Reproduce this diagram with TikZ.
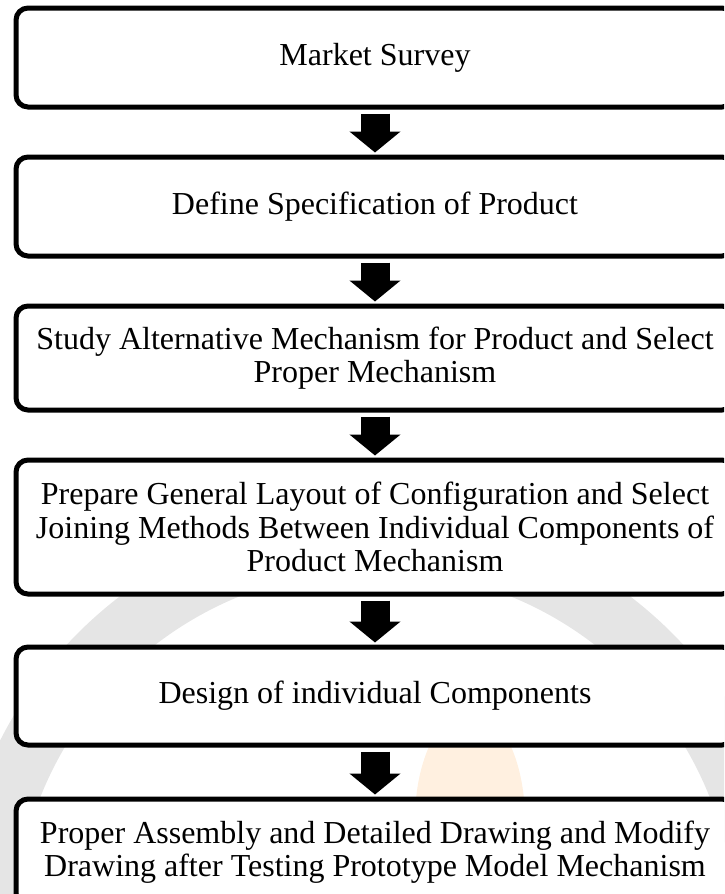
\documentclass[tikz,border=0pt]{standalone}
\usepackage{fontspec}
\setmainfont{Liberation Serif}
\usetikzlibrary{arrows.meta}

\tikzset{
  stagebox/.style={draw=black, line width=5pt, rounded corners=12pt, fill=white,
    minimum width=718pt, align=center, inner sep=0pt,
    font=\fontsize{32}{33.5}\selectfont},
  flowarrow/.style={line width=29pt, black,
    -{Triangle[length=21pt, width=50pt]}},
  watermark/.style={line width=60pt, black!10}
}

\begin{document}
\begin{tikzpicture}[x=1pt, y=-1pt]
  \useasboundingbox (0,0) rectangle (724,894);
  \begin{scope}
    \clip (0,0) rectangle (724,894);
    % faint background logo
    \draw[watermark] (375,930) circle[radius=390];
    \fill[orange!12] (470,820) ellipse[x radius=55, y radius=110];

    % process stages
    \node[stagebox, minimum height=99pt]  (s1) at (375,57.5) {Market Survey};
    \node[stagebox, minimum height=99pt]  (s2) at (375,206.5) {Define Specification of Product};
    \node[stagebox, minimum height=104pt] (s3) at (375,358)
      {Study Alternative Mechanism for Product and Select\\Proper Mechanism};
    \node[stagebox, minimum height=134pt] (s4) at (375,527)
      {Prepare General Layout of Configuration and Select\\Joining Methods Between Individual Components of\\Product Mechanism};
    \node[stagebox, minimum height=98pt]  (s5) at (375,696) {Design of individual Components};
    \node[stagebox, minimum height=106pt] (s6) at (375,852)
      {Proper Assembly and Detailed Drawing and Modify\\Drawing after Testing Prototype Model Mechanism};

    % block arrows between stages
    \foreach \a/\b in {s1/s2, s2/s3, s3/s4, s4/s5, s5/s6}
      \draw[flowarrow] ([yshift=-4pt]\a.south) -- ([yshift=2pt]\b.north);
  \end{scope}
\end{tikzpicture}
\end{document}
